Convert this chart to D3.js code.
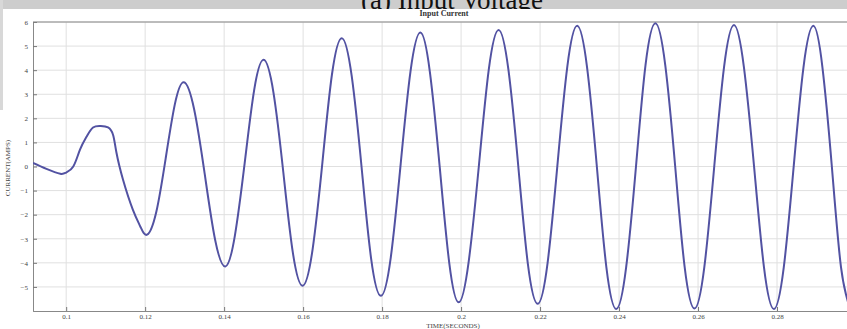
<!DOCTYPE html>
<html>
<head>
<meta charset="utf-8">
<script src="https://cdn.jsdelivr.net/npm/d3@7"></script>
<style>
  body { margin: 0; background: #fff; }
  svg { display: block; }
  .tick text { font-family: "Liberation Serif", serif; font-size: 7px; fill: #444; }
</style>
</head>
<body>
<div id="chart"></div>
<script>
// values (time in s, current in A)
const times = [
  0.0916, 0.0950, 0.0985, 0.1000, 0.1018, 0.1035, 0.1052, 0.1068, 0.1087, 0.1106,
  0.1119, 0.1127, 0.1144, 0.1169, 0.1188, 0.1205,
  0.1228, 0.1252, 0.1275, 0.1298,
  0.1324, 0.1351, 0.1377, 0.1403,
  0.1427, 0.1452, 0.1476, 0.1500,
  0.1525, 0.1550, 0.1574, 0.1599,
  0.1624, 0.1649, 0.1673, 0.1698,
  0.1723, 0.1748, 0.1772, 0.1797,
  0.1822, 0.1847, 0.1872, 0.1897,
  0.1921, 0.1946, 0.1970, 0.1994,
  0.2019, 0.2045, 0.2070, 0.2095,
  0.2120, 0.2145, 0.2169, 0.2194,
  0.2219, 0.2244, 0.2269, 0.2294,
  0.2319, 0.2344, 0.2368, 0.2393,
  0.2418, 0.2443, 0.2467, 0.2492,
  0.2517, 0.2542, 0.2566, 0.2591,
  0.2616, 0.2641, 0.2666, 0.2691,
  0.2716, 0.2742, 0.2767, 0.2792,
  0.2817, 0.2842, 0.2867, 0.2892,
  0.2915, 0.2939, 0.2962, 0.2985
];
const current = [
  0.15, -0.10, -0.30, -0.25, 0.00, 0.70, 1.25, 1.62, 1.68, 1.62,
  1.30, 0.60, -0.55, -1.80, -2.50, -2.83,
  -1.90, 0.34, 2.57, 3.50,
  2.38, -0.33, -3.03, -4.15,
  -2.89, 0.14, 3.17, 4.43,
  3.06, -0.26, -3.58, -4.95,
  -3.44, 0.19, 3.82, 5.33,
  3.76, -0.02, -3.80, -5.37,
  -3.77, 0.10, 3.96, 5.56,
  3.92, -0.04, -4.00, -5.64,
  -3.98, 0.02, 4.01, 5.67,
  4.00, -0.02, -4.03, -5.70,
  -4.01, 0.07, 4.15, 5.84,
  4.12, -0.04, -4.20, -5.92,
  -4.18, 0.02, 4.21, 5.95,
  4.21, 0.03, -4.16, -5.90,
  -4.17, -0.01, 4.15, 5.88,
  4.15, -0.02, -4.19, -5.92,
  -4.20, -0.04, 4.12, 5.84,
  4.12, -0.03, -4.18, -5.90
];
const xTicks = [0.1, 0.12, 0.14, 0.16, 0.18, 0.2, 0.22, 0.24, 0.26, 0.28, 0.3];
const yTicks = [-5, -4, -3, -2, -1, 0, 1, 2, 3, 4, 5, 6];

const W = 847, H = 329;
const plotLeft = 33, plotRight = 856, plotTop = 22, plotBottom = 311;

const svg = d3.select("#chart").append("svg")
    .attr("width", W)
    .attr("height", H);

// scanned page remnants: grey band on top with caption of the figure above
svg.append("rect").attr("x", 0).attr("y", 0).attr("width", W).attr("height", 9).attr("fill", "#cdcdcd");
svg.append("rect").attr("x", 0).attr("y", 0).attr("width", 3).attr("height", 110).attr("fill", "#d8d8d8");
svg.append("text")
    .attr("x", 452).attr("y", 9)
    .attr("text-anchor", "middle")
    .style("font-family", "Liberation Serif, serif")
    .style("font-size", "27px")
    .attr("fill", "#111")
    .text("(a)  Input Voltage");
svg.append("rect").attr("x", 3).attr("y", 9).attr("width", W).attr("height", H).attr("fill", "#fff");

const x = d3.scaleLinear().domain([0.0916, 0.3]).range([plotLeft, plotRight]);
const y = d3.scaleLinear().domain([-6, 6]).range([plotBottom, plotTop]);

// grid
svg.append("g").selectAll("line")
    .data(yTicks)
  .enter().append("line")
    .attr("x1", plotLeft).attr("x2", plotRight)
    .attr("y1", d => y(d)).attr("y2", d => y(d))
    .attr("stroke", "#e0e0e0").attr("stroke-width", 1);
svg.append("g").selectAll("line")
    .data(xTicks)
  .enter().append("line")
    .attr("x1", d => x(d)).attr("x2", d => x(d))
    .attr("y1", plotTop).attr("y2", plotBottom)
    .attr("stroke", "#e0e0e0").attr("stroke-width", 1);

// axes, ticks pointing inward
const xAxis = svg.append("g")
    .attr("transform", "translate(0," + plotBottom + ")")
    .call(d3.axisBottom(x).tickValues(xTicks).tickSize(-4).tickPadding(3).tickFormat(d3.format("~g")));
const yAxis = svg.append("g")
    .attr("transform", "translate(" + plotLeft + ",0)")
    .call(d3.axisLeft(y).tickValues(yTicks).tickSize(-4).tickPadding(5).tickFormat(d3.format("d")));
svg.append("line")
    .attr("x1", plotLeft).attr("x2", plotRight).attr("y1", plotTop).attr("y2", plotTop)
    .attr("stroke", "#888");
[xAxis, yAxis].forEach(g => {
  g.select(".domain").attr("stroke", "#888");
  g.selectAll(".tick line").attr("stroke", "#777");
});

// waveform
const pts = times.map((t, i) => [t, current[i]]);
svg.append("clipPath").attr("id", "clip")
  .append("rect").attr("x", plotLeft).attr("y", plotTop - 3)
    .attr("width", plotRight - plotLeft).attr("height", plotBottom - plotTop + 6);
svg.append("path")
    .datum(pts)
    .attr("clip-path", "url(#clip)")
    .attr("fill", "none")
    .attr("stroke", "#5252a2")
    .attr("stroke-width", 2)
    .attr("d", d3.line().x(d => x(d[0])).y(d => y(d[1])).curve(d3.curveNatural));

// labels
svg.append("text")
    .attr("x", 444).attr("y", 16)
    .attr("text-anchor", "middle")
    .style("font-family", "Liberation Serif, serif")
    .style("font-size", "8px").style("font-weight", "bold")
    .attr("fill", "#333")
    .text("Input Current");
svg.append("text")
    .attr("x", 453).attr("y", 328)
    .attr("text-anchor", "middle")
    .style("font-family", "Liberation Serif, serif")
    .style("font-size", "7px")
    .attr("fill", "#444")
    .text("TIME(SECONDS)");
svg.append("text")
    .attr("transform", "translate(10,168) rotate(-90)")
    .attr("text-anchor", "middle")
    .style("font-family", "Liberation Serif, serif")
    .style("font-size", "7px")
    .attr("fill", "#444")
    .text("CURRENT(AMPS)");
</script>
</body>
</html>
